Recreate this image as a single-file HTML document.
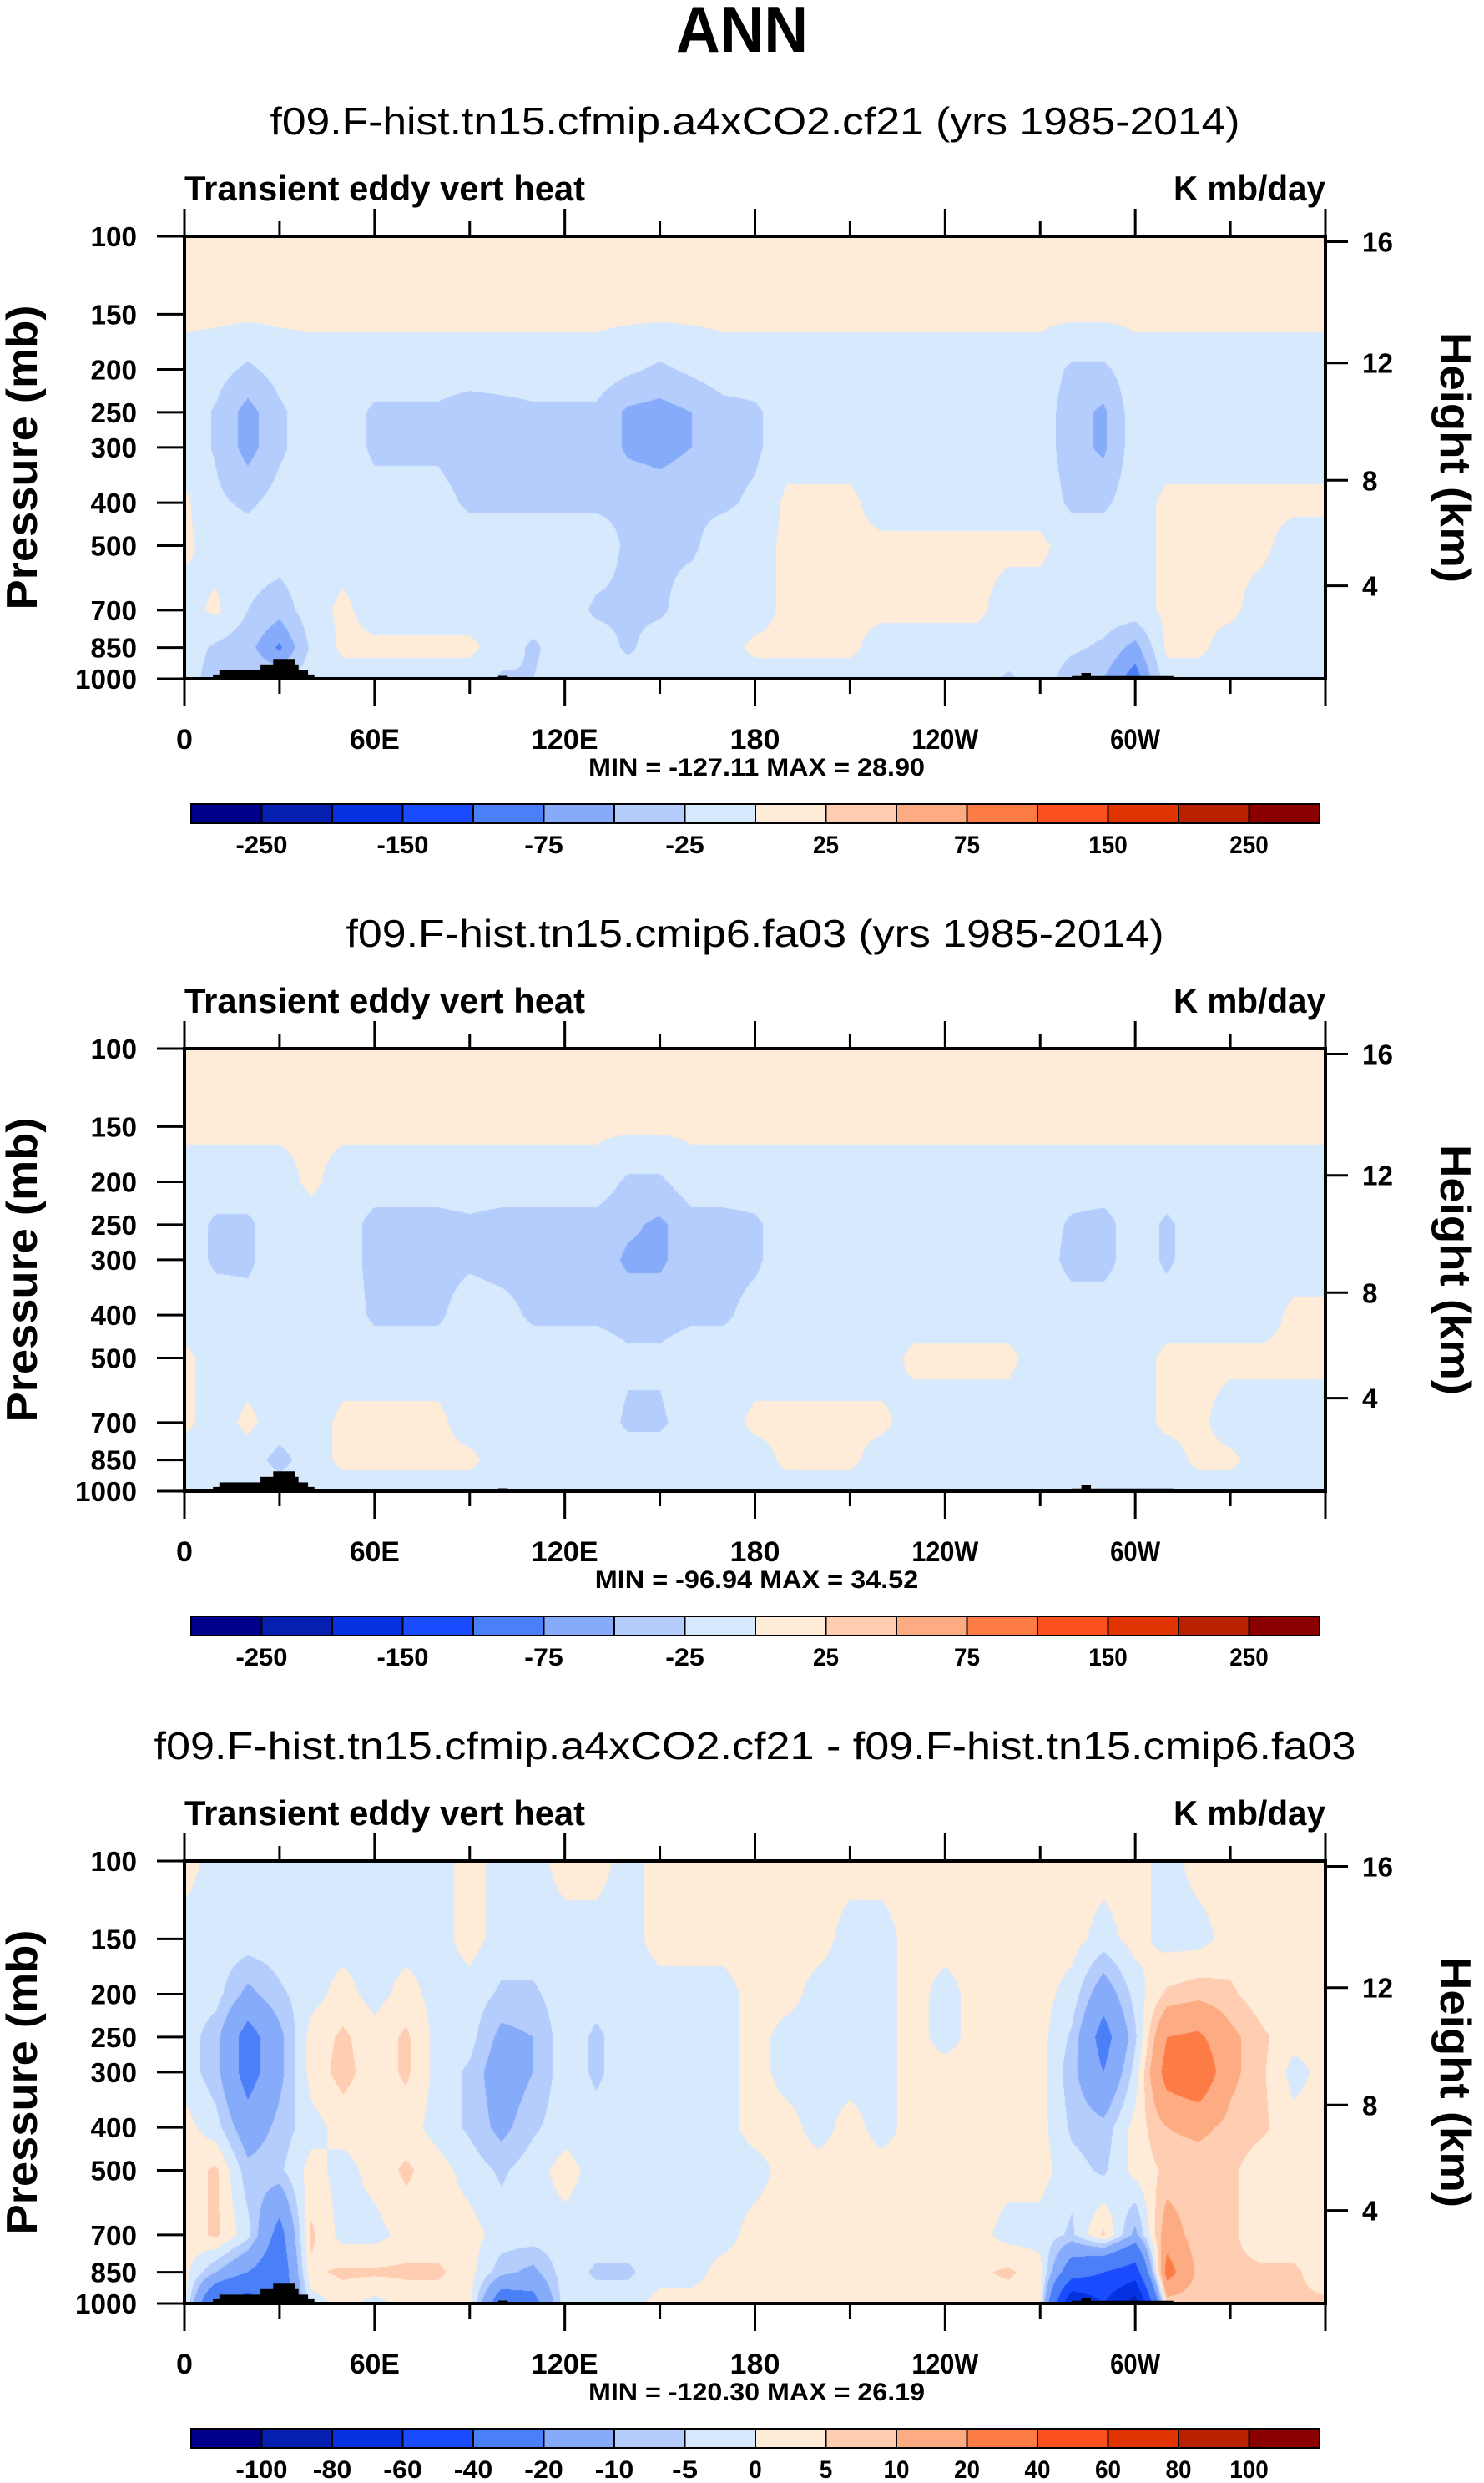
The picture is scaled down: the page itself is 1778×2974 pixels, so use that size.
<!DOCTYPE html>
<html><head><meta charset="utf-8"><style>
html,body{margin:0;padding:0;background:#fff;}
#page{position:relative;width:1778px;height:2974px;overflow:hidden;background:#fff;}
canvas{position:absolute;}
svg{position:absolute;left:0;top:0;}
</style></head>
<body>
<div id="page">
<canvas id="c0"></canvas>
<canvas id="c1"></canvas>
<canvas id="c2"></canvas>
<svg id="svg" width="1778" height="2974" xmlns="http://www.w3.org/2000/svg">
<text x="889" y="62" text-anchor="middle" font-family="Liberation Sans, sans-serif" font-weight="bold" font-size="78" textLength="158" lengthAdjust="spacingAndGlyphs">ANN</text>
</svg>
</div>
<script>
// ---- data ----
const PLEV = [100,150,200,250,300,400,500,700,850,1000];
const LON_STEP = 10;
const gridA = [
[5,5,-10,-10,-10,5,5,-10,-10,-10],
[5,5,-15,-28,-28,-20,-10,5,-30,-40],
[5,5,-30,-60,-60,-30,-10,-25,-40,-30],
[5,5,-15,-30,-30,-15,-10,-40,-80,-30],
[5,5,-10,-10,-10,-10,-10,-10,-20,-10],
[5,5,-10,-10,-10,-10,-10,5,5,-10],
[5,5,-10,-30,-30,-15,-10,-10,5,-10],
[5,5,-10,-30,-30,-15,-10,-10,5,-10],
[5,5,-10,-30,-30,-15,-10,-10,5,-10],
[5,5,-10,-40,-40,-30,-10,-10,5,-10],
[5,5,-10,-35,-35,-30,-10,-10,-10,-30],
[5,5,-10,-30,-30,-30,-10,-10,-30,-25],
[5,5,-10,-30,-30,-30,-10,-10,-10,-10],
[5,5,-10,-30,-30,-30,-10,-30,-10,-10],
[5,5,-20,-55,-55,-30,-30,-30,-30,-10],
[5,5,-30,-60,-60,-35,-30,-30,-10,-10],
[5,5,-20,-50,-50,-30,-30,-10,-10,-10],
[5,5,-10,-35,-35,-30,-10,-10,-10,-10],
[5,5,-10,-30,-30,-20,-10,-10,5,-10],
[5,5,-10,-10,-10,5,5,5,5,-10],
[5,5,-10,-10,-10,5,5,5,5,-10],
[5,5,-10,-10,-10,5,5,5,5,-10],
[5,5,-10,-10,-10,-10,5,5,-10,-10],
[5,5,-10,-10,-10,-10,5,5,-10,-10],
[5,5,-10,-10,-10,-10,5,5,-10,-10],
[5,5,-10,-10,-10,-10,5,5,-10,-10],
[5,5,-10,-10,-10,-10,5,-10,-10,-30],
[5,5,-10,-10,-10,-10,5,-10,-10,-10],
[5,5,-30,-40,-40,-30,-10,-10,-20,-40],
[5,5,-30,-55,-55,-30,-10,-10,-30,-50],
[5,5,-10,-10,-10,-10,-10,-10,-60,-90],
[5,5,-10,-10,-10,5,5,5,5,-10],
[5,5,-10,-10,-10,5,5,5,5,-10],
[5,5,-10,-10,-10,5,5,5,-10,-10],
[5,5,-10,-10,-10,5,5,-10,-10,-10],
[5,5,-10,-10,-10,5,-10,-10,-10,-10],
[5,5,-10,-10,-10,5,-10,-10,-10,-10]
];
const gridB = [
[5,5,-10,-10,-10,-10,5,5,-10,-10],
[5,5,-10,-30,-30,-10,-10,-10,-10,-10],
[5,5,-10,-30,-30,-15,-10,5,-10,-10],
[5,5,-10,-10,-10,-10,-10,-10,-35,-10],
[5,5,5,-10,-10,-10,-10,-10,-10,-10],
[5,5,-10,-10,-10,-10,-10,5,5,-10],
[5,5,-10,-35,-35,-30,-10,5,5,-10],
[5,5,-10,-35,-35,-30,-10,5,5,-10],
[5,5,-10,-35,-35,-30,-10,5,5,-10],
[5,5,-10,-30,-30,-10,-10,-10,5,-10],
[5,5,-10,-35,-35,-15,-10,-10,-10,-10],
[5,5,-10,-35,-35,-30,-10,-10,-10,-10],
[5,5,-10,-35,-35,-30,-10,-10,-10,-10],
[5,5,-10,-35,-35,-30,-10,-10,-10,-10],
[5,5,-30,-45,-55,-35,-20,-30,-10,-10],
[5,5,-30,-55,-55,-35,-20,-30,-10,-10],
[5,5,-10,-35,-35,-30,-10,-10,-10,-10],
[5,5,-10,-35,-35,-30,-10,-10,-10,-10],
[5,5,-10,-30,-30,-15,-10,5,-10,-10],
[5,5,-10,-10,-10,-10,-10,5,5,-10],
[5,5,-10,-10,-10,-10,-10,5,5,-10],
[5,5,-10,-10,-10,-10,-10,5,5,-10],
[5,5,-10,-10,-10,-10,-10,5,-10,-10],
[5,5,-10,-10,-10,-10,5,-10,-10,-10],
[5,5,-10,-10,-10,-10,5,-10,-10,-10],
[5,5,-10,-10,-10,-10,5,-10,-10,-10],
[5,5,-10,-10,-10,-10,5,-10,-10,-10],
[5,5,-10,-10,-10,-10,-10,-10,-10,-10],
[5,5,-10,-30,-35,-10,-10,-10,-10,-10],
[5,5,-10,-35,-35,-10,-10,-10,-10,-10],
[5,5,-10,-10,-10,-10,-10,-10,-10,-10],
[5,5,-10,-30,-30,-10,5,5,-10,-10],
[5,5,-10,-10,-10,-10,5,5,5,-10],
[5,5,-10,-10,-10,-10,5,-10,5,-10],
[5,5,-10,-10,-10,-10,5,-10,-10,-10],
[5,5,-10,-10,-10,5,5,-10,-10,-10],
[5,5,-10,-10,-10,5,5,-10,-10,-10]
];
const gridC = [
[2,-2,-2,-2,-2,2,2,2,2,2],
[-2,-2,-3,-8,-8,-3,6,6,-10,-40],
[-2,-2,-12,-25,-25,-15,-8,-3,-20,-50],
[-2,-2,-6,-12,-12,-8,-6,-25,-30,-30],
[-2,-2,-2,2,2,-2,2,6,4,-3],
[-2,-2,2,6,7,2,-2,-2,6,2],
[-2,-2,-2,2,2,2,2,-2,6,-2],
[-2,-2,2,6,6,2,6,2,6,2],
[-2,-2,-2,-2,-2,-2,2,2,6,2],
[2,2,-2,-3,-6,-6,-2,2,2,2],
[-2,-2,-6,-12,-15,-12,-6,-2,-8,-30],
[-2,-2,-6,-10,-10,-6,-2,-2,-12,-25],
[2,-2,-2,-2,-2,-2,2,-2,-2,-2],
[2,-2,-3,-6,-6,-3,-2,-2,-6,-2],
[-2,-2,-2,-2,-2,-2,-2,-2,-6,-2],
[2,2,-2,-2,-2,-2,-2,-2,-2,2],
[2,2,-2,-2,-2,-2,-2,-2,-2,2],
[2,2,-2,-2,-2,-2,-2,-2,2,2],
[2,2,2,2,2,2,-2,2,2,2],
[2,2,2,-2,-2,2,2,2,2,2],
[2,2,-2,-2,-2,-2,2,2,2,2],
[2,-2,-2,-2,-2,2,2,2,2,2],
[2,-2,-2,-2,-2,-2,2,2,2,2],
[2,2,2,2,2,2,2,2,2,2],
[2,2,-2,-2,2,2,2,2,2,2],
[2,2,2,2,2,2,2,2,4,2],
[2,2,2,2,2,2,2,-2,6,2],
[2,2,2,2,2,2,2,-2,2,2],
[2,2,-2,-6,-8,-6,-3,-6,-30,-80],
[2,-2,-15,-25,-20,-8,-6,6,-40,-60],
[2,2,-3,-6,-3,2,2,-12,-50,-90],
[-2,-2,6,20,25,10,6,15,25,6],
[2,-2,8,22,30,12,6,6,8,6],
[2,2,6,12,12,8,6,6,6,6],
[2,2,2,6,6,6,2,2,6,6],
[2,2,2,2,-2,2,2,2,6,6],
[2,2,2,2,2,2,2,2,2,6]
];
const boundsAB = [-250,-200,-150,-100,-75,-50,-25,0,25,50,75,100,150,200,250];
const boundsC = [-100,-80,-60,-40,-20,-10,-5,0,5,10,20,40,60,80,100];
const labelsAB = ['-250','','-150','','-75','','-25','','25','','75','','150','','250'];
const labelsC = ['-100','-80','-60','-40','-20','-10','-5','0','5','10','20','40','60','80','100'];
const COLORS = ['#00008c','#0520b0','#0532e0','#1a4cff','#4a7ff8','#86abfb','#b4cdfc','#d6e9fd','#feebd8','#fecdb2','#fdab82','#fd7c45','#fd5020','#e03500','#b82200','#8a0000'];
const xTickLons = [0,60,120,180,240,300];
const xTickLabels = ['0','60E','120E','180','120W','60W'];
const pTicks = [100,150,200,250,300,400,500,700,850,1000];
const zTicks = [16,12,8,4];
const topo = [[9,41,978],[11,39,955],[24,36,928],[28,35,902],[99,102,985],[280,312,986],[283,286,970]];
const subtitles = ['f09.F-hist.tn15.cfmip.a4xCO2.cf21 (yrs 1985-2014)','f09.F-hist.tn15.cmip6.fa03 (yrs 1985-2014)','f09.F-hist.tn15.cfmip.a4xCO2.cf21 - f09.F-hist.tn15.cmip6.fa03'];
const subWidths = [1162, 980, 1440];
const minmax = ['MIN = -127.11  MAX = 28.90','MIN = -96.94  MAX = 34.52','MIN = -120.30  MAX = 26.19'];

// ---- layout ----
const L = 221, W = 1367, H = 530;
const TOPS = [283, 1256, 2229];
const SVGNS = 'http://www.w3.org/2000/svg';
const svg = document.getElementById('svg');
function xOf(lon){ return L + lon/360*W; }
function yOf(top,p){ return top + (Math.log10(p)-2)*H; }
function zToP(z){
  if (z <= 11) return 1013.25*Math.pow(1 - 0.0065*z*1000/288.15, 5.2559);
  return 226.32*Math.exp(-(z-11)*1000/6341.6);
}
function mk(tag, attrs, parent){
  const e = document.createElementNS(SVGNS, tag);
  for (const k in attrs) e.setAttribute(k, attrs[k]);
  (parent||svg).appendChild(e);
  return e;
}
function txt(str, x, y, size, opts){
  opts = opts || {};
  const e = mk('text', {x:x, y:y, 'font-family':'Liberation Sans, sans-serif', 'font-size':size,
    'font-weight': opts.bold===false ? 'normal':'bold', 'text-anchor': opts.anchor||'middle'});
  if (opts.len){ e.setAttribute('textLength', opts.len); e.setAttribute('lengthAdjust','spacingAndGlyphs'); }
  if (opts.transform) e.setAttribute('transform', opts.transform);
  e.textContent = str;
  return e;
}
function colorIdx(v, bounds){
  let i = 0; while (i < bounds.length && v >= bounds[i]) i++; return i;
}
function hexToRgb(h){ return [parseInt(h.substr(1,2),16),parseInt(h.substr(3,2),16),parseInt(h.substr(5,2),16)]; }
const RGB = COLORS.map(hexToRgb);
const LOGP = PLEV.map(p=>Math.log10(p));

function drawField(cid, top, grid, bounds){
  const cv = document.getElementById(cid);
  cv.width = W; cv.height = H;
  cv.style.left = L+'px'; cv.style.top = top+'px';
  const ctx = cv.getContext('2d');
  const img = ctx.createImageData(W, H);
  const rowK = [], rowT = [];
  for (let y=0;y<H;y++){
    const lp = 2 + (y+0.5)/H;
    let k=0; while (k < LOGP.length-2 && lp > LOGP[k+1]) k++;
    rowK.push(k); rowT.push(Math.min(1,Math.max(0,(lp-LOGP[k])/(LOGP[k+1]-LOGP[k]))));
  }
  for (let x=0;x<W;x++){
    const lon = (x+0.5)/W*360;
    let i = Math.floor(lon/LON_STEP); if (i >= grid.length-1) i = grid.length-2;
    const s = (lon - i*LON_STEP)/LON_STEP;
    const g0 = grid[i], g1 = grid[i+1];
    for (let y=0;y<H;y++){
      const k=rowK[y], t=rowT[y];
      const a = g0[k]*(1-t)+g0[k+1]*t, b = g1[k]*(1-t)+g1[k+1]*t;
      const v = a*(1-s)+b*s;
      const c = RGB[colorIdx(v,bounds)];
      const o = (y*W+x)*4;
      img.data[o]=c[0]; img.data[o+1]=c[1]; img.data[o+2]=c[2]; img.data[o+3]=255;
    }
  }
  ctx.putImageData(img,0,0);
}

function drawPanel(n, grid, bounds, labels){
  const top = TOPS[n], bot = top + H, R = L + W;
  drawField('c'+n, top, grid, bounds);
  const st = txt(subtitles[n], (L+R)/2, top-122, 46, {bold:false, len:subWidths[n]});
  
  
  const lt = txt('Transient eddy vert heat', L, top-43, 42, {anchor:'start', len:480});
  
  
  const ut = txt('K mb/day', R, top-43, 42, {anchor:'end', len:182});
  
  
  for (const t of topo){
    const r = mk('rect', {x:xOf(t[0]), y:yOf(top,t[2]), width:xOf(t[1])-xOf(t[0]), height:bot-yOf(top,t[2]), fill:'#000'});
    
    
  }
  const fr = mk('rect', {x:L, y:top, width:W, height:H, fill:'none', stroke:'#000', 'stroke-width':4});
  
  
  for (let lon=0; lon<=360; lon+=30){
    const major = lon % 60 === 0;
    const len = major ? 33 : 18;
    const tb = mk('line', {x1:xOf(lon), x2:xOf(lon), y1:bot, y2:bot+len, stroke:'#000', 'stroke-width':3});
    
    
    const tt = mk('line', {x1:xOf(lon), x2:xOf(lon), y1:top, y2:top-len, stroke:'#000', 'stroke-width':3});
    
    
  }
  xTickLons.forEach((lon,j)=>{
    const s = xTickLabels[j];
    const e = txt(s, xOf(lon), bot+84, 34, {len: s.length*20});
    
    
  });
  const mm = txt(minmax[n], (L+R)/2+2, bot+116, 30, {len: minmax[n].length===26?403:(minmax[n].length*15.5)});
  
  
  pTicks.forEach(p=>{
    const y = yOf(top,p);
    const tl = mk('line', {x1:L, x2:L-33, y1:y, y2:y, stroke:'#000', 'stroke-width':3});
    
    
    const lb = txt(String(p), L-57, y+12, 33, {anchor:'end', len:String(p).length*18.5});
    
    
  });
  const yt = txt('Pressure (mb)', 0, 0, 52, {transform:'translate(44,'+(top+H/2)+') rotate(-90)', len:365});
  
  
  zTicks.forEach(z=>{
    const y = yOf(top, zToP(z));
    const tr = mk('line', {x1:R, x2:R+27, y1:y, y2:y, stroke:'#000', 'stroke-width':3});
    
    
    const lb = txt(String(z), R+44, y+12, 33, {anchor:'start', len:String(z).length*18.5});
    
    
  });
  const ht = txt('Height (km)', 0, 0, 52, {transform:'translate(1726,'+(top+H/2)+') rotate(90)', len:300});
  
  
  const cbL = 229, cbR = 1581, cbT = top+680, cbH = 23, nb = COLORS.length, bw = (cbR-cbL)/nb;
  for (let i=0;i<nb;i++){
    const r = mk('rect', {x:cbL+i*bw, y:cbT, width:bw, height:cbH, fill:COLORS[i], stroke:'#000', 'stroke-width':2});
    
    
  }
  labels.forEach((s,i)=>{
    if (!s) return;
    const e = txt(s, cbL+(i+1)*bw, cbT+59, 30, {len: s.length*15.5});
    
    
  });
}
drawPanel(0, gridA, boundsAB, labelsAB);
drawPanel(1, gridB, boundsAB, labelsAB);
drawPanel(2, gridC, boundsC, labelsC);
</script>
</body></html>
